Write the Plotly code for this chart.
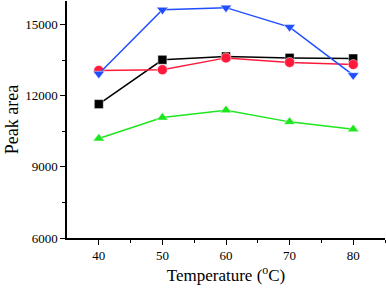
import plotly.graph_objects as go

temps = [40, 50, 60, 70, 80]
black_sq = [11650, 13520, 13660, 13600, 13575]
red_circ = [13070, 13100, 13600, 13410, 13320]
blue_tri = [12930, 15630, 15720, 14900, 12870]
green_tri = [10200, 11080, 11390, 10900, 10590]
y_ticks = [6000, 9000, 12000, 15000]
x_ticks = [40, 50, 60, 70, 80]

series = [
    (black_sq, "#000000", "square", 9),
    (red_circ, "#ff1a3c", "circle", 10),
    (blue_tri, "#1f4dff", "triangle-down", 10),
    (green_tri, "#1ee61e", "triangle-up", 10),
]

fig = go.Figure()
for vals, col, sym, sz in series:
    fig.add_trace(go.Scatter(
        x=temps, y=vals, mode="lines+markers",
        line=dict(color=col, width=1.5),
        marker=dict(symbol=sym, size=sz, color=col, line=dict(color="white", width=0.5)),
        showlegend=False,
    ))

font = "Liberation Serif"
fig.update_layout(
    width=386, height=288,
    margin=dict(l=67, r=1, t=1, b=50),
    paper_bgcolor="white", plot_bgcolor="white",
    font=dict(family=font, color="black", size=13),
    xaxis=dict(
        range=[35, 85], tickvals=x_ticks, ticktext=[str(v) for v in x_ticks],
        showline=True, linecolor="black", linewidth=1.5,
        ticks="outside", ticklen=5, tickwidth=1.2, tickcolor="black",
        minor=dict(tickvals=[45, 55, 65, 75, 85], ticks="outside", ticklen=3, tickcolor="black"),
        showgrid=False, zeroline=False,
        title=dict(text="Temperature (<sup>o</sup>C)", font=dict(family=font, size=17), standoff=6),
        tickfont=dict(family=font, size=13),
    ),
    yaxis=dict(
        range=[6000, 16000], tickvals=y_ticks, ticktext=[str(v) for v in y_ticks],
        showline=True, linecolor="black", linewidth=1.5,
        ticks="outside", ticklen=5, tickwidth=1.2, tickcolor="black",
        minor=dict(tickvals=[7500, 10500, 13500], ticks="outside", ticklen=3, tickcolor="black"),
        showgrid=False, zeroline=False,
        title=dict(text="Peak area", font=dict(family=font, size=18), standoff=2),
        tickfont=dict(family=font, size=13),
    ),
)

fig.write_html("out.html", config={"displayModeBar": False},
               post_script="document.body.style.margin='0';")
